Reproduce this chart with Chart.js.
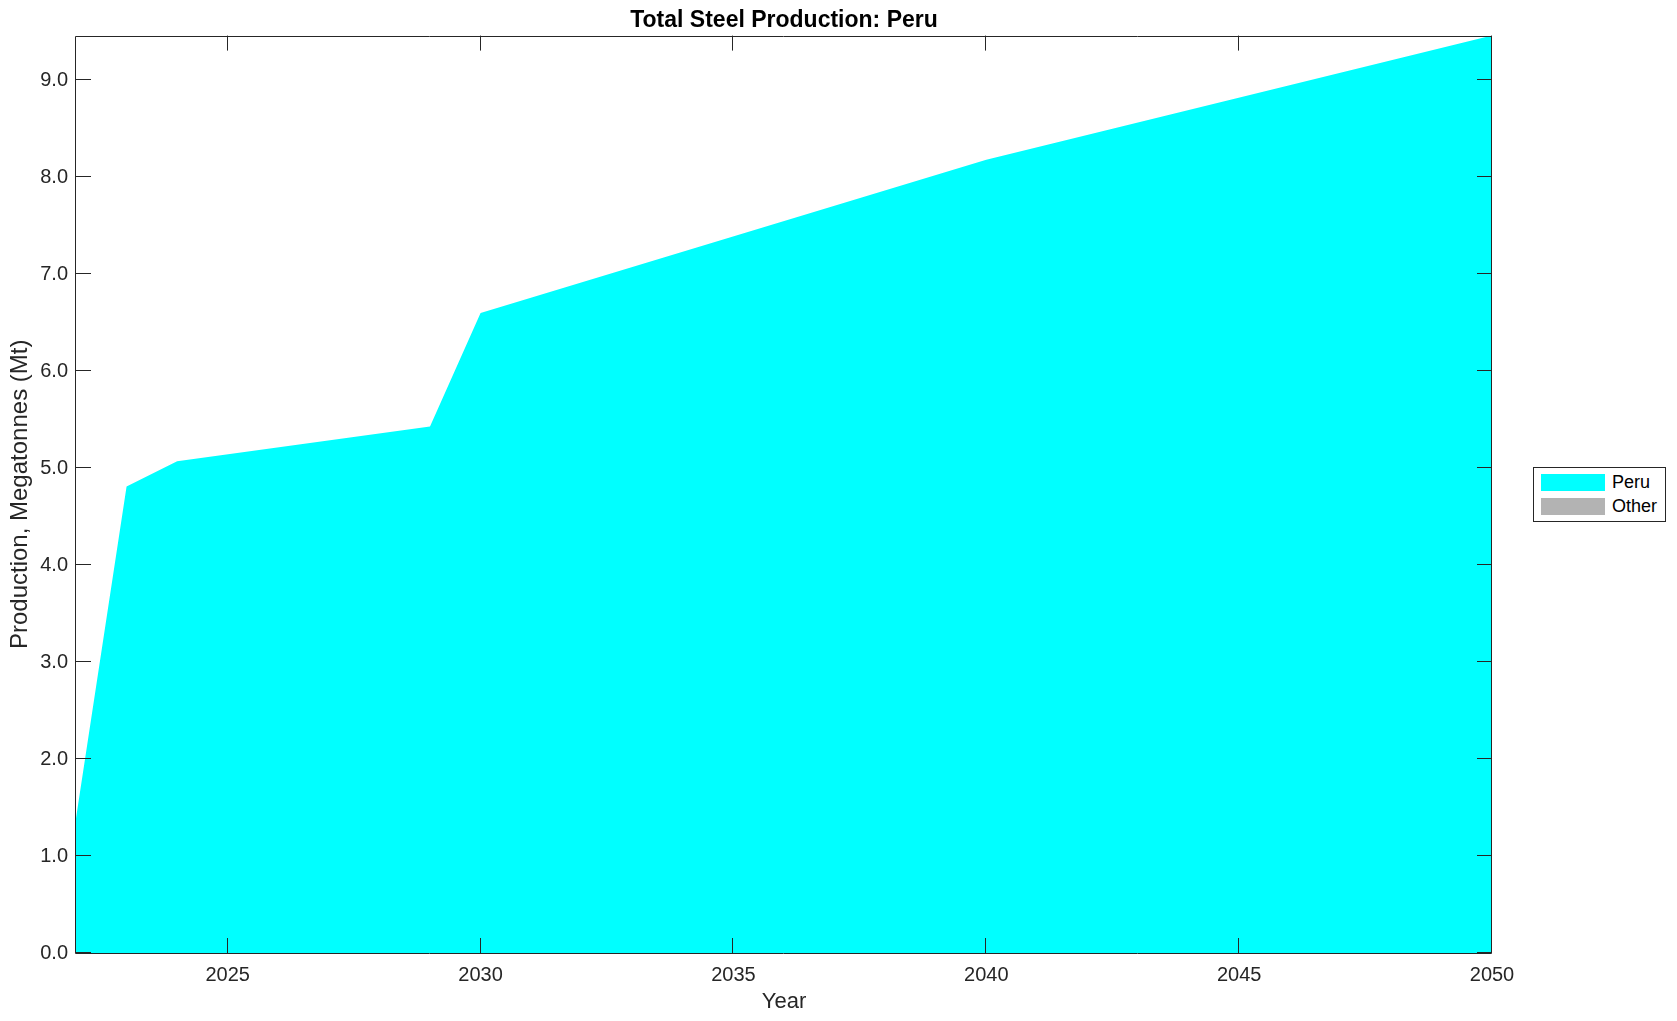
<!DOCTYPE html>
<html>
<head>
<meta charset="utf-8">
<title>Total Steel Production: Peru</title>
<script src="https://cdn.jsdelivr.net/npm/chart.js@4/dist/chart.umd.min.js"></script>
<style>
  body { margin: 0; background: #fff; }
  #wrap { position: relative; width: 1677px; height: 1021px; }
  #legend {
    position: absolute; left: 1533px; top: 467px; width: 131px; height: 53px;
    border: 1px solid #262626; background: #fff;
    font-family: 'Liberation Sans', Arial, Helvetica, sans-serif; font-size: 18px; color: #000;
  }
  .item { position: absolute; left: 7px; height: 17px; display: flex; align-items: center; }
  .swatch { width: 64px; height: 17px; margin-right: 7px; }
</style>
</head>
<body>
<div id="wrap">
  <canvas id="myChart" width="1677" height="1021"></canvas>
  <div id="legend"></div>
</div>
<script>
// data (line vertices only)
const years = [2022, 2023, 2024, 2029, 2030, 2040, 2050];
const peru = [1.39, 4.81, 5.07, 5.43, 6.60, 8.18, 9.46];
const other = [0, 0, 0, 0, 0, 0, 0];

const xTicks = [2025, 2030, 2035, 2040, 2045, 2050];
const yTicks = [0, 1, 2, 3, 4, 5, 6, 7, 8, 9];

const seriesNames = ['Peru', 'Other'];
const seriesColors = ['#00ffff', '#b3b3b3'];

const axisColor = '#262626';
const fontFamily = "'Liberation Sans', Arial, Helvetica, sans-serif";
const tickLen = 15;

// MATLAB style box with ticks pointing inward
const insideTicks = {
    id: 'insideTicks',
    afterDraw(chart) {
        const ctx = chart.ctx;
        const { left, right, top, bottom } = chart.chartArea;
        const x = chart.scales.x;
        const y = chart.scales.y;
        ctx.save();
        ctx.strokeStyle = axisColor;
        ctx.lineWidth = 1;
        ctx.beginPath();
        ctx.rect(Math.round(left) - 0.5, Math.round(top) + 0.5, Math.round(right - left), Math.round(bottom - top));
        x.ticks.forEach(t => {
            const px = Math.round(x.getPixelForValue(t.value)) - 0.5;
            ctx.moveTo(px, bottom);
            ctx.lineTo(px, bottom - tickLen);
            ctx.moveTo(px, top);
            ctx.lineTo(px, top + tickLen);
        });
        y.ticks.forEach(t => {
            const py = Math.round(y.getPixelForValue(t.value)) - 0.5;
            ctx.moveTo(left, py);
            ctx.lineTo(left + tickLen, py);
            ctx.moveTo(right, py);
            ctx.lineTo(right - tickLen, py);
        });
        ctx.stroke();
        ctx.restore();
    }
};

const ctx = document.getElementById('myChart').getContext('2d');
new Chart(ctx, {
    type: 'line',
    data: {
        datasets: [{
            label: seriesNames[0],
            data: years.map((yr, i) => ({ x: yr, y: peru[i] })),
            backgroundColor: seriesColors[0],
            borderWidth: 0,
            pointRadius: 0,
            fill: 'origin',
            tension: 0
        }, {
            label: seriesNames[1],
            data: years.map((yr, i) => ({ x: yr, y: other[i] })),
            backgroundColor: seriesColors[1],
            borderWidth: 0,
            pointRadius: 0,
            fill: '-1',
            tension: 0
        }]
    },
    options: {
        responsive: false,
        animation: false,
        devicePixelRatio: 1,
        layout: { padding: { left: 0, right: 185, top: 0, bottom: 0 } },
        plugins: {
            legend: { display: false },
            tooltip: { enabled: false },
            title: {
                display: true,
                fullSize: false,   // center over the plot box, not the whole canvas
                text: 'Total Steel Production: Peru',
                color: '#000',
                font: { family: fontFamily, size: 23, weight: 'bold' },
                padding: { top: 7, bottom: 1 }
            }
        },
        scales: {
            x: {
                type: 'linear',
                min: years[0],
                max: years[years.length - 1],
                afterBuildTicks: scale => { scale.ticks = xTicks.map(v => ({ value: v })); },
                afterFit: scale => { scale.height = 68; },
                grid: { display: false, drawTicks: false },
                border: { display: false },
                ticks: {
                    color: axisColor,
                    font: { family: fontFamily, size: 20 },
                    padding: 10,
                    maxRotation: 0,
                    callback: v => String(v)
                },
                title: {
                    display: true,
                    text: 'Year',
                    color: axisColor,
                    font: { family: fontFamily, size: 22 },
                    padding: 6
                }
            },
            y: {
                stacked: true,
                min: 0,
                max: Math.max(...peru),
                afterBuildTicks: scale => { scale.ticks = yTicks.map(v => ({ value: v })); },
                afterFit: scale => { scale.width = 76; },
                grid: { display: false, drawTicks: false },
                border: { display: false },
                ticks: {
                    color: axisColor,
                    font: { family: fontFamily, size: 20 },
                    padding: 8,
                    callback: v => v.toFixed(1)
                },
                title: {
                    display: true,
                    text: 'Production, Megatonnes (Mt)',
                    color: axisColor,
                    font: { family: fontFamily, size: 24 },
                    padding: 6
                }
            }
        }
    },
    plugins: [insideTicks]
});

// legend box on the right, like the MATLAB figure
const legendDiv = document.getElementById('legend');
seriesNames.forEach((name, i) => {
    const item = document.createElement('div');
    item.className = 'item';
    item.style.top = (6 + i * 24) + 'px';
    item.innerHTML = `<span class="swatch" style="background:${seriesColors[i]}"></span><span>${name}</span>`;
    legendDiv.appendChild(item);
});
</script>
</body>
</html>
